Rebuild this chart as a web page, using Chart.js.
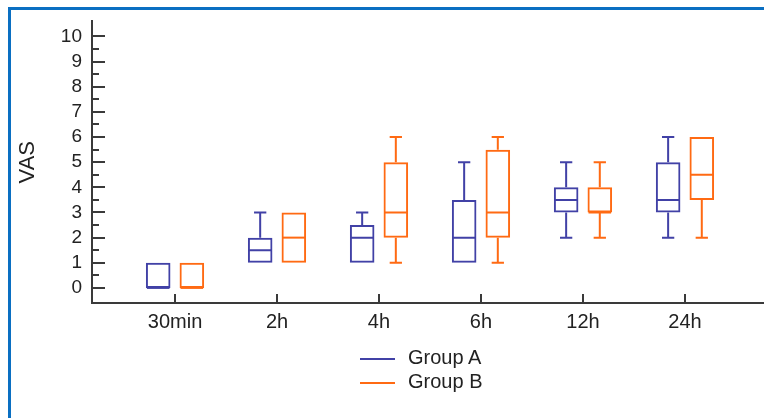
<!DOCTYPE html>
<html lang="en">
<head>
  <meta charset="UTF-8" />
  <title>VAS box plot</title>
  <script src="https://cdn.jsdelivr.net/npm/chart.js"></script>
  <style>
    body { margin: 0; background: #fff; }
    .wrap { position: relative; width: 764px; height: 418px; overflow: hidden; }
    .frame {
      position: absolute; left: 8px; top: 7px; width: 800px; height: 500px;
      border-left: 3px solid #0a6fc2; border-top: 3px solid #0a6fc2;
    }
    canvas { position: absolute; left: 0; top: 0; }
    .legend { position: absolute; left: 360px; top: 345px; font: 20px Arial, "Liberation Sans", sans-serif; color: #222; }
    .legend div { height: 24px; line-height: 24px; }
    .legend span { display: inline-block; width: 35px; height: 2px; vertical-align: middle; margin-right: 13px; }
  </style>
</head>
<body>
  <div class="wrap">
    <div class="frame"></div>
    <canvas id="grafico" width="764" height="418"></canvas>
    <div class="legend">
      <div><span style="background:#4141a6"></span>Group A</div>
      <div><span style="background:#ff6a13"></span>Group B</div>
    </div>
  </div>

  <script>
    const categorias = ["30min", "2h", "4h", "6h", "12h", "24h"];

    // min, Q1, mediana, Q3, max
    const aMin = [0, 1, 1, 1, 2, 2];
    const aQ1  = [0, 1, 1, 1, 3, 3];
    const aMed = [0, 1.5, 2, 2, 3.5, 3.5];
    const aQ3  = [1, 2, 2.5, 3.5, 4, 5];
    const aMax = [1, 3, 3, 5, 5, 6];

    const bMin = [0, 1, 1, 1, 2, 2];
    const bQ1  = [0, 1, 2, 2, 3, 3.5];
    const bMed = [0, 2, 3, 3, 3, 4.5];
    const bQ3  = [1, 3, 5, 5.5, 4, 6];
    const bMax = [1, 3, 6, 6, 5, 6];

    const yTicks = [0, 1, 2, 3, 4, 5, 6, 7, 8, 9, 10];

    const corA = "#4141a6";
    const corB = "#ff6a13";
    const eixo = "#3a3a3a";
    const fonte = 'Arial, "Liberation Sans", sans-serif';

    const stats = [
      { min: aMin, med: aMed, max: aMax, cor: corA },
      { min: bMin, med: bMed, max: bMax, cor: corB }
    ];

    // mediana + bigodes + marcas dos eixos
    const boxPlugin = {
      id: "boxplot",
      afterDatasetsDraw(chart) {
        const ctx = chart.ctx;
        const y = chart.scales.y;
        ctx.save();
        ctx.lineWidth = 2;
        chart.data.datasets.forEach((ds, d) => {
          const s = stats[d];
          chart.getDatasetMeta(d).data.forEach((bar, i) => {
            const w = bar.width;
            const x0 = bar.x - w / 2 + 1, x1 = bar.x + w / 2 - 1;
            const yMed = y.getPixelForValue(s.med[i]);
            const yQ1 = y.getPixelForValue(ds.data[i].y[0]);
            const yQ3 = y.getPixelForValue(ds.data[i].y[1]);
            const yMin = y.getPixelForValue(s.min[i]);
            const yMax = y.getPixelForValue(s.max[i]);
            ctx.strokeStyle = s.cor;
            ctx.beginPath();
            ctx.moveTo(x0, yMed); ctx.lineTo(x1, yMed);
            if (s.max[i] > ds.data[i].y[1]) {
              ctx.moveTo(bar.x, yQ3); ctx.lineTo(bar.x, yMax);
              ctx.moveTo(bar.x - w / 4, yMax); ctx.lineTo(bar.x + w / 4, yMax);
            }
            if (s.min[i] < ds.data[i].y[0]) {
              ctx.moveTo(bar.x, yQ1); ctx.lineTo(bar.x, yMin);
              ctx.moveTo(bar.x - w / 4, yMin); ctx.lineTo(bar.x + w / 4, yMin);
            }
            ctx.stroke();
          });
        });
        ctx.restore();
      },
      afterDraw(chart) {
        const ctx = chart.ctx;
        const { x, y } = chart.scales;
        const left = chart.chartArea.left, bottom = chart.chartArea.bottom;
        ctx.save();
        ctx.strokeStyle = eixo;
        ctx.lineWidth = 2;
        ctx.beginPath();
        for (let v = 0; v <= 10; v += 0.5) {
          const py = Math.round(y.getPixelForValue(v));
          const len = Number.isInteger(v) ? 13 : 7;
          ctx.moveTo(left, py); ctx.lineTo(left + len, py);
        }
        categorias.forEach((c, i) => {
          const px = Math.round(x.getPixelForValue(i));
          ctx.moveTo(px, bottom); ctx.lineTo(px, bottom - 9);
        });
        ctx.stroke();
        ctx.restore();
      }
    };

    const fazerDados = (q1, q3) => categorias.map((c, i) => ({ x: i, y: [q1[i], q3[i]] }));

    new Chart(document.getElementById("grafico"), {
      type: "bar",
      data: {
        datasets: [
          {
            label: "Group A",
            data: fazerDados(aQ1, aQ3),
            backgroundColor: "rgba(0,0,0,0)",
            borderColor: corA,
            borderWidth: 2,
            borderSkipped: false
          },
          {
            label: "Group B",
            data: fazerDados(bQ1, bQ3),
            backgroundColor: "rgba(0,0,0,0)",
            borderColor: corB,
            borderWidth: 2,
            borderSkipped: false
          }
        ]
      },
      options: {
        responsive: false,
        animation: false,
        categoryPercentage: 0.66,
        barPercentage: 0.73,
        layout: { padding: { left: 0, right: 0, top: 18, bottom: 75 } },
        plugins: {
          legend: { display: false },
          tooltip: { enabled: false }
        },
        scales: {
          x: {
            type: "linear",
            offset: false,
            bounds: "data",
            min: -0.814,
            max: 5.775,
            grid: { display: false, drawTicks: false, offset: false },
            border: { display: true, color: eixo, width: 2 },
            afterBuildTicks: s => { s.ticks = categorias.map((c, i) => ({ value: i })); },
            afterFit: s => { s.height = 40; },
            ticks: {
              padding: 7,
              color: "#222",
              font: { family: fonte, size: 20 },
              callback: v => categorias[v]
            }
          },
          y: {
            min: -0.6,
            max: 10.6,
            grid: { display: false, drawTicks: false },
            border: { display: true, color: eixo, width: 2 },
            afterBuildTicks: s => { s.ticks = yTicks.map(v => ({ value: v })); },
            afterFit: s => { s.width = 92; },
            ticks: {
              padding: 10,
              color: "#222",
              font: { family: fonte, size: 19 }
            },
            title: {
              display: true,
              text: "VAS",
              color: "#222",
              font: { family: fonte, size: 22 },
              padding: { top: 15, bottom: 0 }
            }
          }
        }
      },
      plugins: [boxPlugin]
    });
  </script>
</body>
</html>
